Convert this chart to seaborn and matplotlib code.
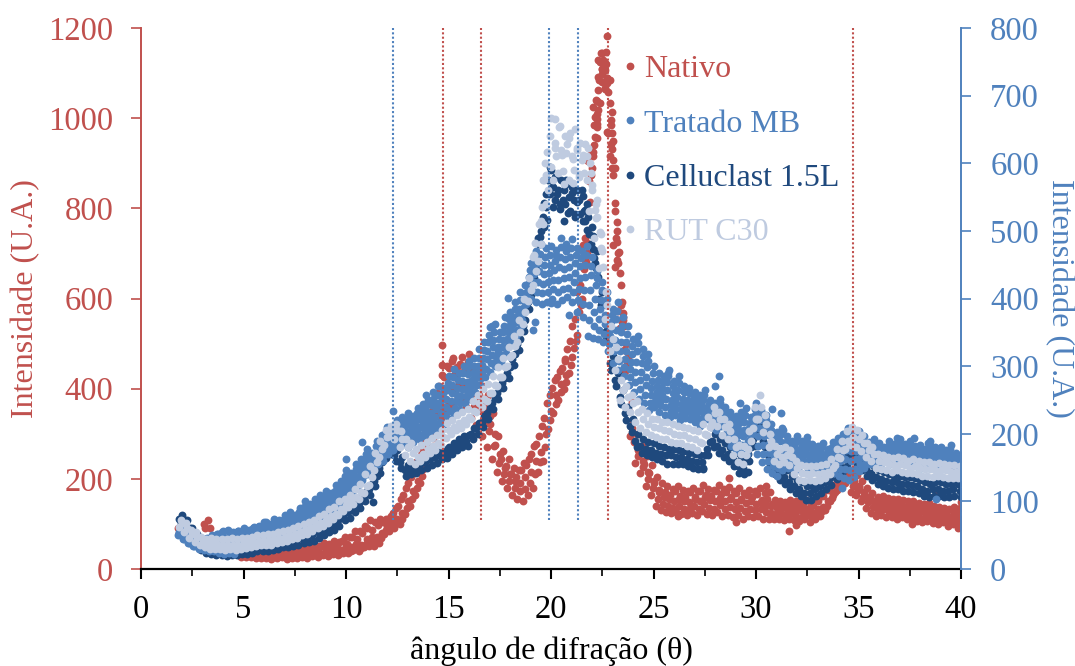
#!/usr/bin/env python3
import numpy as np
import pandas as pd
import seaborn as sns
import matplotlib
matplotlib.use("Agg")
import matplotlib.pyplot as plt
from matplotlib.lines import Line2D

# colors
RED = "#C0504D"
BLUE = "#4F81BD"
NAVY = "#1F497D"
LIGHT = "#BFCBE0"

# rows are read every 0.25 deg starting at 2 deg, one block per degree
ANGLE_START = 2.0
ANGLE_STEP = 0.25

# Nativo, left axis
NATIVO_MID = [88,78,66,60, 56,58,60,56, 52,50,50,46, 36,34,34,33, 32,33,30,32, 34,32,33,32,
    36,34,38,36, 40,38,44,42, 50,48,56,54, 66,72,70,80, 96,104,112,124, 150,172,196,222,
    270,310,345,380, 400,425,410,440, 415,390,385,350, 340,300,255,225, 210,195,190,205,
    215,240,260,300, 350,385,410,430, 470,520,600,700, 890,1010,1110,1090, 950,700,560,470,
    330,265,240,215, 195,170,160,155, 150,155,150,148, 155,150,160,152, 150,158,150,155,
    148,152,146,150, 145,148,142,140, 135,138,132,135, 130,128,132,126, 132,138,150,165,
    180,195,210,200, 185,170,160,150, 140,142,136,138, 132,135,128,130, 128,125,126,122,
    118,122,115,120, 112]
NATIVO_HIGH = [95,84,72,66, 60,62,64,60, 56,54,54,50, 46,44,44,43, 42,44,40,42, 46,44,46,44,
    50,48,54,52, 58,56,62,60, 72,70,84,84, 96,108,104,112, 112,118,135,155, 180,205,238,262,
    305,350,390,430, 450,462,448,470, 460,440,430,405, 385,345,295,262, 245,225,220,235,
    245,272,295,335, 385,420,440,462, 505,555,630,735, 920,1040,1145,1120, 985,735,585,500,
    370,300,272,250, 230,205,190,184, 178,184,176,172, 180,172,186,178, 175,186,178,182,
    172,180,168,176, 172,180,168,170, 152,150,148,154, 150,146,152,144, 152,162,176,186,
    192,205,216,212, 208,196,180,168, 160,162,158,156, 155,152,150,150, 146,145,146,140,
    138,136,132,138, 136]
NATIVO_LOW = [80,70,60,54, 50,50,52,50, 46,44,40,36, 27,26,26,25, 24,25,22,24, 26,23,25,24,
    26,25,28,26, 30,28,33,31, 36,35,42,40, 48,52,50,58, 78,84,92,100, 122,140,165,190,
    235,270,300,335, 345,365,350,375, 360,335,320,295, 270,245,215,195, 180,165,155,150,
    165,180,215,240, 310,345,375,400, 435,490,570,665, 860,985,1085,1065, 915,670,535,440,
    295,235,212,185, 165,140,130,126, 124,126,122,120, 125,120,128,122, 120,126,118,120,
    115,120,110,118, 115,118,112,110, 110,112,108,112, 108,106,110,104, 112,118,130,150,
    170,182,190,170, 165,150,135,125, 118,120,115,116, 112,115,110,112, 106,104,106,102,
    100,104,96,100, 92]
NATIVO_UP = [92,80,68,62, 58,60,62,58, 54,52,52,48, 42,38,40,38, 36,40,34,38, 40,36,40,38,
    42,40,46,42, 50,46,54,50, 62,56,70,66, 80,90,86,98, 104,110,124,140, 165,190,218,240,
    290,330,368,405, 425,445,430,455, 438,415,410,378, 362,322,275,243, 228,210,205,220,
    230,256,278,318, 368,402,425,446, 488,538,615,718, 905,1025,1128,1105, 968,718,572,485,
    350,282,256,232, 212,190,175,170, 165,172,162,160, 170,160,172,165, 162,172,166,170,
    160,168,156,164, 160,166,154,156, 144,146,140,146, 140,136,142,134, 142,150,162,176,
    186,200,212,206, 196,182,170,158, 150,154,146,148, 144,146,138,142, 138,134,136,130,
    128,130,124,130, 124]
NATIVO_DOWN = [84,74,62,56, 52,54,54,52, 48,46,44,40, 32,30,30,29, 28,29,26,28, 30,27,29,28,
    30,30,32,30, 36,33,38,36, 44,40,48,46, 56,60,60,68, 86,94,102,112, 136,156,180,206,
    252,290,322,358, 372,395,380,408, 388,362,352,322, 305,272,235,210, 195,180,172,178,
    190,210,238,270, 330,365,392,415, 452,505,585,682, 875,998,1098,1078, 932,685,548,455,
    312,250,226,200, 180,155,145,140, 136,140,134,134, 140,134,144,136, 134,142,134,138,
    132,136,128,134, 130,134,126,124, 122,124,120,124, 118,116,120,114, 122,128,140,158,
    175,188,200,185, 175,160,148,138, 128,132,124,126, 122,125,118,120, 116,114,116,112,
    108,112,106,110, 102]
NATIVO_EXTRA_X = [22.72,22.68,22.47,22.52,22.39,22.63,22.47,22.63,22.31,22.72,22.88,22.47,22.31,22.63,22.80,
    22.23,22.39,22.88,22.31,22.96,22.15,22.23,22.23,22.91,22.75,22.96,22.15,22.23,22.10,22.91,22.07,22.03,
    23.04,22.96,23.12,23.01,23.12,23.12,23.20,23.20,23.20,23.33,23.28,23.37,23.40,23.45,23.50,23.53,23.56,
    21.90,21.74,21.66,3.27,3.05,3.10,3.35,14.70,16.00,15.20,14.70,20.70,29.00,31.60,31.95,26.20,28.70,30.50,
    37.60,38.80,40.00]
NATIVO_EXTRA_Y = [1182,1147,1144,1129,1125,1122,1110,1107,1092,1088,1085,1081,1062,1066,1059,
    1037,1033,1033,1018,1014,1003,988,981,996,970,966,959,955,940,943,926,915,
    907,889,889,874,811,793,770,750,726,704,678,656,630,593,567,552,538,
    815,722,685,109,100,92,92,497,477,468,452,466,104,84,98,118,202,184,
    100,164,149]

# Tratado MB, right axis
TRATADO_TOP = [62,56,48,44, 42,44,48,52, 56,58,54,56, 60,58,62,64, 70,66,74,72, 80,84,80,90,
    100,96,104,110, 116,112,124,130, 146,142,156,162, 178,172,190,198, 210,205,220,225,
    230,226,238,244, 250,262,270,268, 285,296,290,300, 308,312,325,335, 358,362,350,372,
    380,395,410,420, 452,470,480,475, 478,472,490,480, 488,475,470,478, 462,440,425,410,
    385,395,372,360, 340,345,325,318, 300,290,285,295, 278,285,270,268, 262,258,265,250,
    246,252,240,232, 226,232,238,225, 245,235,228,215, 202,208,196,190, 196,190,195,185,
    182,186,178,188, 194,200,208,204, 204,196,188,192, 186,180,190,185, 192,185,190,182,
    184,178,190,180, 180,176,184,172, 168]
TRATADO_A = [60,56,50,46, 44,46,50,52, 54,56,52,56, 58,56,60,62, 64,60,68,68, 74,78,74,84,
    92,90,98,102, 108,106,116,122, 138,134,148,154, 170,165,182,190, 202,198,212,216,
    222,220,230,236, 242,252,258,260, 275,284,280,290, 298,300,312,324, 346,350,340,360,
    370,384,398,408, 442,458,466,462, 464,464,476,470, 475,464,460,464, 448,430,412,400,
    375,382,360,348, 330,334,315,308, 290,280,276,286, 270,275,262,260, 256,250,258,244,
    240,246,234,226, 220,224,228,216, 236,228,220,206, 194,200,188,184, 188,182,188,178,
    175,180,172,180, 186,192,200,196, 196,190,182,186, 182,176,184,180, 186,180,184,178,
    178,174,184,176, 176,170,178,168, 164]
TRATADO_UP = [58,50,46,42, 40,42,44,46, 50,46,50,52, 52,55,52,58, 60,56,62,64, 68,72,70,76,
    86,84,90,94, 102,100,108,114, 130,126,138,146, 162,158,172,180, 194,190,204,208,
    214,212,220,228, 232,242,246,252, 264,272,268,278, 288,290,300,312, 335,338,328,350,
    360,372,385,396, 432,448,452,450, 450,455,462,458, 462,452,448,450, 435,420,398,390,
    365,370,350,335, 318,322,305,298, 278,270,268,276, 260,265,252,250, 248,244,250,238,
    234,238,228,218, 212,216,218,208, 228,220,210,198, 186,190,180,176, 178,174,180,170,
    168,172,165,172, 178,182,190,188, 188,182,175,178, 176,170,178,174, 180,174,178,172,
    172,168,176,170, 170,166,172,164, 160]
TRATADO_MID = [56,48,46,42, 40,42,38,40, 42,38,42,44, 46,48,48,52, 54,52,56,58, 62,68,64,70,
    80,80,84,88, 96,96,102,108, 122,120,130,138, 154,154,166,174, 186,186,196,200,
    206,204,212,220, 224,230,236,242, 252,260,258,266, 276,280,290,302, 322,328,322,338,
    350,362,375,386, 422,436,440,436, 438,442,446,444, 447,438,430,432, 412,400,385,376,
    354,354,336,322, 306,306,292,284, 268,262,258,264, 250,255,244,244, 242,238,240,234,
    228,230,224,214, 205,206,206,200, 220,208,196,185, 176,176,170,170, 172,168,174,165,
    162,166,160,166, 170,172,176,174, 174,174,168,172, 172,166,172,170, 175,170,172,168,
    166,164,170,166, 164,162,166,160, 156]
TRATADO_DOWN = [54,46,42,38, 36,34,32,34, 36,32,36,36, 40,42,44,46, 48,50,52,54, 58,62,60,66,
    74,76,78,82, 90,92,96,102, 114,116,124,132, 146,150,160,168, 176,180,190,194,
    200,196,204,210, 214,220,225,230, 240,248,248,256, 266,270,282,292, 310,316,315,328,
    340,352,365,378, 412,424,425,422, 424,428,428,430, 432,424,414,412, 390,380,370,362,
    344,338,322,310, 296,292,280,272, 258,255,250,252, 242,246,236,238, 235,232,232,230,
    222,222,220,208, 198,198,196,190, 214,196,184,172, 165,164,162,164, 165,162,168,160,
    158,160,154,160, 160,160,162,160, 162,165,162,166, 166,162,168,165, 170,168,168,166,
    162,160,166,162, 160,160,160,158, 154]
TRATADO_B = [52,44,38,34, 30,28,26,28, 30,26,30,28, 34,36,38,40, 42,44,46,48, 52,56,54,60,
    68,70,70,76, 84,88,88,96, 106,110,118,126, 138,146,154,162, 168,176,184,188,
    194,188,196,200, 204,210,215,218, 228,234,238,246, 256,260,272,282, 296,304,308,316,
    330,344,354,368, 402,412,410,408, 410,414,410,414, 416,410,398,392, 368,360,354,348,
    332,322,308,298, 284,276,266,258, 246,248,242,240, 234,236,228,232, 230,226,222,226,
    216,214,216,202, 190,188,184,180, 206,182,170,160, 152,150,154,156, 158,154,160,155,
    152,155,148,154, 150,148,148,146, 148,155,156,160, 162,157,164,160, 164,165,162,163,
    157,155,160,157, 155,158,154,155, 150]
TRATADO_BOTTOM = [50,44,38,34, 32,30,28,26, 24,22,24,22, 30,32,34,36, 38,40,42,44, 47,52,50,56,
    62,66,64,72, 78,84,82,90, 98,104,112,120, 132,140,150,156, 160,170,176,182,
    186,180,188,192, 196,200,205,208, 215,222,228,235, 245,252,262,272, 284,292,300,306,
    320,335,345,360, 392,400,395,392, 395,400,392,398, 402,395,380,372, 345,342,340,335,
    322,305,295,285, 272,262,252,245, 235,240,232,228, 225,228,220,224, 222,218,212,222,
    210,205,212,196, 182,176,172,170, 200,170,158,148, 142,138,146,150, 150,148,155,150,
    146,150,142,148, 142,138,135,132, 136,145,150,155, 157,152,160,155, 158,162,155,160,
    152,150,156,152, 150,155,148,152, 146]
TRATADO_EXTRA_X = [10.0,10.8,6.1,12.3,13.9,25.7,28.2,28.0,29.2,30.8,31.2,31.3,38.4,37.7,36.9,38.8,34.2,19.2,19.1,17.9,17.1,20.9,20.0]
TRATADO_EXTRA_Y = [163,188,70,234,257,290,285,271,245,236,230,205,186,194,194,104,120,365,353,401,359,376,393]

# Celluclast 1.5L, right axis
CELLU_HIGH = [80,72,60,52, 44,40,38,36, 36,35,36,36, 38,38,40,42, 42,43,44,46, 48,48,50,52,
    54,56,58,62, 66,70,74,80, 88,92,100,106, 116,126,138,158, 180,186,176,166,
    154,156,158,163, 166,170,173,178, 180,186,192,196, 198,208,216,226, 238,253,268,283,
    298,318,340,368, 405,450,500,535, 590,580,575,575, 565,560,560,540, 505,470,410,360,
    315,290,264,240, 222,200,192,188, 186,182,180,178, 178,176,175,172, 170,168,168,188,
    200,192,186,180, 172,162,160,180, 202,232,200,175, 160,152,146,138, 132,128,122,122,
    128,132,138,144, 153,162,172,182, 175,166,158,152, 146,143,140,138, 138,136,136,134,
    132,128,126,128, 128,126,126,128, 135]
CELLU_MID = [74,64,52,44, 36,32,30,28, 28,27,28,28, 30,30,32,34, 34,35,36,38, 40,40,42,44,
    46,48,50,54, 58,62,66,72, 80,84,92,98, 108,118,130,150, 172,178,168,158,
    146,148,150,155, 158,162,165,170, 172,178,184,188, 190,200,208,218, 230,245,260,275,
    290,310,332,360, 395,440,490,520, 575,565,560,560, 550,545,545,530, 495,460,400,350,
    305,280,254,230, 212,190,182,178, 176,172,170,168, 168,166,165,162, 160,158,158,178,
    190,182,176,170, 162,152,150,170, 192,222,190,165, 150,142,136,128, 122,118,112,112,
    118,122,128,134, 143,152,162,172, 165,156,148,142, 136,133,130,128, 128,126,126,124,
    122,118,116,118, 118,116,116,118, 125]
CELLU_LOW = [68,56,44,36, 28,24,22,20, 20,19,20,20, 22,22,24,26, 26,27,28,30, 32,32,34,36,
    38,40,42,46, 50,54,58,64, 72,76,84,90, 100,110,122,142, 164,170,160,150,
    138,140,142,147, 150,154,157,162, 164,170,176,180, 182,192,200,210, 222,237,252,267,
    282,302,324,352, 385,430,480,505, 555,545,540,540, 530,525,525,515, 480,445,390,340,
    295,270,244,220, 202,180,172,168, 166,162,160,156, 156,156,155,152, 150,148,148,168,
    180,172,166,160, 152,142,140,160, 182,212,180,155, 140,132,126,118, 112,108,102,102,
    108,112,118,124, 133,142,152,162, 155,146,138,132, 126,123,120,118, 118,116,116,114,
    112,108,106,108, 108,106,106,108, 115]
CELLU_EXTRA_X = [19.95,20.2,20.03,19.76,20.31,20.68,21.01,19.66,20.11,20.6,21.58,21.25,20.44,20.85,21.17,20.63,19.79,
    21.66,21.82,21.58,21.74,22.03,19.46,22.07,22.15,19.38,22.31,11.3,2.0,2.4,27.4,26.4,29.6,40.0]
CELLU_EXTRA_Y = [595,580,565,555,555,568,556,541,536,546,551,543,533,526,521,514,516,
    531,521,514,501,493,491,473,452,454,432,99,77,61,149,158,143,106]

# RUT C30, right axis
RUT_MID = [68,60,52,47, 42,38,38,36, 36,35,36,36, 38,38,40,42, 42,43,44,46, 48,50,52,54,
    58,60,64,68, 72,78,82,88, 95,100,106,114, 122,136,158,178, 195,205,205,192,
    180,172,165,170, 178,182,186,195, 205,210,216,220, 225,234,245,252, 260,272,284,298,
    314,330,350,380, 413,440,480,540, 595,610,620,615, 610,620,605,610, 560,520,470,390,
    340,310,265,255, 245,232,222,215, 210,208,205,204, 200,198,198,194, 192,188,200,210,
    230,222,210,204, 180,170,168,190, 222,240,215,190, 170,166,168,165, 150,142,140,142,
    140,142,144,150, 165,176,190,195, 192,186,176,170, 160,158,156,154, 155,154,150,152,
    150,148,148,146, 147,146,144,144, 143]
RUT_HIGH = [72,68,58,54, 48,44,46,44, 44,44,46,44, 46,46,48,50, 50,52,52,54, 56,58,60,64,
    66,70,72,78, 82,88,92,100, 104,110,118,126, 140,152,172,190, 205,212,214,204,
    192,186,178,184, 188,194,198,206, 216,220,228,232, 236,248,258,266, 274,286,298,312,
    328,345,368,400, 430,465,510,575, 640,665,655,640, 645,650,630,628, 585,540,495,410,
    360,328,280,270, 258,248,236,230, 222,222,218,218, 214,212,210,208, 206,204,215,225,
    240,232,222,214, 192,184,182,204, 240,258,228,200, 182,178,180,176, 160,154,152,152,
    152,154,156,162, 178,190,204,210, 205,198,186,180, 170,168,166,164, 165,164,160,162,
    160,158,158,156, 157,156,154,154, 152]
RUT_LOW = [62,54,46,40, 36,32,30,30, 29,28,30,28, 30,31,32,34, 35,36,36,38, 40,42,44,46,
    50,52,56,60, 64,68,74,80, 86,92,96,104, 112,124,146,166, 184,196,192,180,
    168,160,155,160, 166,172,176,184, 194,200,206,208, 214,222,232,240, 248,260,270,284,
    300,316,335,362, 396,420,455,510, 560,575,585,570, 575,590,580,585, 530,490,445,370,
    322,295,250,240, 232,218,208,202, 198,195,192,192, 188,186,186,182, 180,176,186,198,
    218,212,198,192, 168,158,156,178, 208,222,202,180, 160,156,158,154, 140,132,130,132,
    130,132,134,140, 154,164,178,184, 180,174,166,160, 150,148,146,144, 146,144,142,142,
    140,138,138,136, 138,136,134,134, 134]
RUT_EXTRA_X = [20.0,20.39,20.9,20.2,20.8,21.82,19.79,20.2,20.52,21.25,21.58,19.71,21.09,21.9,20.6,21.38,19.59,19.76,
    21.06,21.74,21.98,22.23,19.55,22.15,19.5,22.2,22.39,19.22,22.44,19.14,22.55]
RUT_EXTRA_Y = [667,654,638,630,629,622,617,622,612,622,612,601,607,600,588,584,575,583,
    571,575,568,546,536,531,514,519,499,482,474,462,447]

# dotted guide lines
RED_LINES = [14.75, 16.6, 22.8, 34.75]
BLUE_LINES = [12.3, 19.9, 21.3]

LEGEND_LABELS = ["Nativo", "Tratado MB", "Celluclast 1.5L", "RUT C30"]
LEGEND_COLORS = [RED, BLUE, NAVY, LIGHT]


def make_frame(rows, extra_x, extra_y):
    # each row gets a small shift so the dots do not line up in columns
    parts = []
    for i, row in enumerate(rows):
        x = ANGLE_START + ANGLE_STEP * np.arange(len(row)) - (0.07 * i) % ANGLE_STEP
        parts.append(pd.DataFrame({"angle": x, "intensity": row}))
    parts.append(pd.DataFrame({"angle": extra_x, "intensity": extra_y}))
    return pd.concat(parts, ignore_index=True)


def main():
    sns.set_style("white")
    plt.rcParams["font.family"] = ["Liberation Serif", "DejaVu Serif"]
    plt.rcParams["font.size"] = 23.5

    fig, ax = plt.subplots(figsize=(10.75, 6.66), dpi=100)
    fig.subplots_adjust(left=141 / 1075, right=961 / 1075, top=1 - 28 / 666, bottom=1 - 569 / 666)
    ax2 = ax.twinx()

    dots = dict(s=32, linewidth=0, legend=False)
    sns.scatterplot(data=make_frame([NATIVO_MID, NATIVO_HIGH, NATIVO_LOW, NATIVO_UP, NATIVO_DOWN], NATIVO_EXTRA_X, NATIVO_EXTRA_Y),
                    x="angle", y="intensity", color=RED, ax=ax, **dots)
    sns.scatterplot(data=make_frame([CELLU_HIGH, CELLU_LOW, CELLU_MID], CELLU_EXTRA_X, CELLU_EXTRA_Y),
                    x="angle", y="intensity", color=NAVY, ax=ax2, **dots)
    sns.scatterplot(data=make_frame([TRATADO_TOP, TRATADO_UP, TRATADO_DOWN, TRATADO_BOTTOM, TRATADO_A, TRATADO_MID, TRATADO_B],
                                    TRATADO_EXTRA_X, TRATADO_EXTRA_Y),
                    x="angle", y="intensity", color=BLUE, ax=ax2, **dots)
    sns.scatterplot(data=make_frame([RUT_MID, RUT_HIGH, RUT_LOW], RUT_EXTRA_X, RUT_EXTRA_Y),
                    x="angle", y="intensity", color=LIGHT, ax=ax2, **dots)

    ax2.vlines(RED_LINES, 73, 800, colors=RED, linestyles=(0, (1, 1.1)), linewidth=1.5)
    ax2.vlines(BLUE_LINES, 73, 800, colors=BLUE, linestyles=(0, (1, 1.1)), linewidth=1.5)

    ax.set_xlim(0, 40)
    ax.set_ylim(0, 1200)
    ax2.set_ylim(0, 800)
    ax.set_xticks(np.arange(0, 41, 5))
    ax.set_xticks(np.arange(0, 41, 2.5), minor=True)
    ax.set_yticks(np.arange(0, 1201, 200))
    ax2.set_yticks(np.arange(0, 801, 100))

    ax.tick_params(axis="x", which="major", bottom=True, direction="out", length=7, width=1.5, color="black",
                   labelcolor="black", labelsize=23.5, pad=11)
    ax.tick_params(axis="x", which="minor", bottom=True, direction="out", length=5, width=1.2, color="black")
    ax.tick_params(axis="y", left=True, direction="out", length=7, width=1.2, color=RED, labelcolor=RED, labelsize=23.5, pad=13)
    ax2.tick_params(axis="y", right=True, direction="out", length=7, width=1.2, color=BLUE, labelcolor=BLUE, labelsize=23.5, pad=14)

    ax.spines["top"].set_visible(False)
    ax2.spines["top"].set_visible(False)
    ax.spines["right"].set_visible(False)
    ax2.spines["left"].set_visible(False)
    ax2.spines["bottom"].set_visible(False)
    ax.spines["bottom"].set_linewidth(1.6)
    ax.spines["bottom"].set_color("black")
    ax.spines["left"].set_linewidth(1.4)
    ax.spines["left"].set_color(RED)
    ax2.spines["right"].set_linewidth(1.4)
    ax2.spines["right"].set_color(BLUE)

    ax.set_xlabel("ângulo de difração (θ)", fontsize=23, color="black", labelpad=9)
    ax.set_ylabel("Intensidade (U.A.)", fontsize=23, color=RED, labelpad=6)
    ax2.set_ylabel("Intensidade (U.A.)", fontsize=23, color=BLUE, rotation=270, labelpad=25)

    handles = [Line2D([], [], linestyle="none", marker="o", markersize=5.6, markeredgewidth=0, color=c)
               for c in LEGEND_COLORS]
    ax2.legend(handles, LEGEND_LABELS, labelcolor=LEGEND_COLORS, frameon=False, fontsize=23,
               loc="upper left", bbox_to_anchor=(620 / 1075, 1 - 55 / 666), bbox_transform=fig.transFigure,
               borderpad=0, borderaxespad=0, labelspacing=0.78, handlelength=0.6, handletextpad=0.14)

    fig.savefig("out.png", dpi=100)
    plt.close(fig)


if __name__ == "__main__":
    main()
